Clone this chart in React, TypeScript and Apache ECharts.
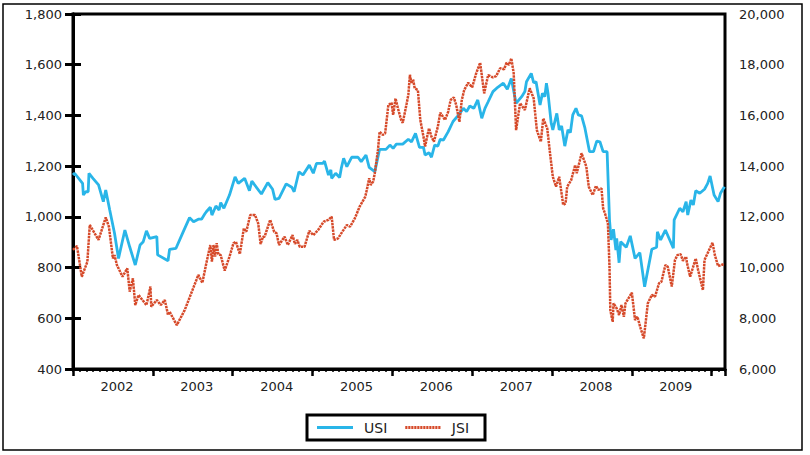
import React, { useEffect, useRef } from "react";
import * as echarts from "echarts";

// Decimal-year dates and values
const usiDates = [
  2002.0, 2002.02, 2002.12, 2002.13, 2002.16, 2002.19, 2002.2, 2002.25, 2002.32, 2002.38,
  2002.41, 2002.46, 2002.52, 2002.57, 2002.65, 2002.71, 2002.78, 2002.84, 2002.88, 2002.92,
  2002.96, 2003.05, 2003.06, 2003.19, 2003.21, 2003.29, 2003.38, 2003.46, 2003.51, 2003.57,
  2003.61, 2003.65, 2003.67, 2003.72, 2003.74, 2003.79, 2003.83, 2003.85, 2003.89, 2003.96,
  2004.03, 2004.07, 2004.15, 2004.21, 2004.24, 2004.36, 2004.44, 2004.5, 2004.53, 2004.58,
  2004.67, 2004.74, 2004.77, 2004.83, 2004.88, 2004.96, 2005.01, 2005.05, 2005.13, 2005.15,
  2005.2, 2005.23, 2005.24, 2005.29, 2005.34, 2005.36, 2005.39, 2005.43, 2005.49, 2005.57,
  2005.61, 2005.67, 2005.71, 2005.78, 2005.84, 2005.92, 2005.97, 2006.01, 2006.05, 2006.13,
  2006.2, 2006.24, 2006.29, 2006.34, 2006.39, 2006.41, 2006.46, 2006.49, 2006.53, 2006.57,
  2006.6, 2006.64, 2006.7, 2006.76, 2006.82, 2006.89, 2006.93, 2006.97, 2007.02, 2007.07,
  2007.12, 2007.16, 2007.2, 2007.26, 2007.32, 2007.39, 2007.44, 2007.49, 2007.55, 2007.62,
  2007.66, 2007.68, 2007.74, 2007.77, 2007.8, 2007.85, 2007.88, 2007.91, 2007.93, 2007.95,
  2007.99, 2008.01, 2008.06, 2008.09, 2008.12, 2008.16, 2008.2, 2008.23, 2008.26, 2008.3,
  2008.33, 2008.37, 2008.41, 2008.47, 2008.52, 2008.56, 2008.6, 2008.64, 2008.69, 2008.72,
  2008.74, 2008.77, 2008.8, 2008.81, 2008.84, 2008.86, 2008.93, 2008.98, 2009.04, 2009.1,
  2009.16, 2009.25, 2009.31, 2009.32, 2009.36, 2009.42, 2009.52, 2009.53, 2009.6, 2009.64,
  2009.68, 2009.7, 2009.74, 2009.77, 2009.8, 2009.85, 2009.91, 2009.95, 2009.98, 2010.03,
  2010.08, 2010.11, 2010.16,
];
const usiValues = [
  1165, 1172, 1132, 1086, 1099, 1099, 1172, 1152, 1126, 1060,
  1106, 1027, 935, 836, 948, 882, 810, 889, 902, 945,
  915, 922, 850, 827, 872, 876, 941, 997, 981, 991,
  991, 1011, 1020, 1038, 1007, 1043, 1027, 1056, 1034, 1086,
  1158, 1132, 1152, 1103, 1141, 1090, 1135, 1109, 1069, 1073,
  1130, 1117, 1099, 1178, 1165, 1204, 1172, 1211, 1211, 1220,
  1165, 1185, 1152, 1172, 1155, 1191, 1231, 1198, 1235, 1235,
  1218, 1244, 1195, 1178, 1266, 1266, 1283, 1270, 1287, 1287,
  1306, 1296, 1329, 1274, 1274, 1244, 1253, 1235, 1283, 1279,
  1306, 1303, 1336, 1376, 1398, 1428, 1415, 1437, 1428, 1461,
  1389, 1428, 1454, 1494, 1511, 1527, 1503, 1546, 1448, 1474,
  1494, 1533, 1566, 1529, 1533, 1441, 1487, 1474, 1527, 1487,
  1369, 1343, 1408, 1343, 1358, 1279, 1343, 1332, 1402, 1428,
  1402, 1398, 1353, 1257, 1257, 1299, 1296, 1257, 1257, 988,
  909, 951, 869, 915, 819, 902, 880, 925, 836, 859,
  724, 872, 880, 941, 909, 948, 876, 988, 1034, 1020,
  1060, 1007, 1066, 1047, 1103, 1093, 1109, 1132, 1161, 1086,
  1060, 1093, 1119,
];

const jsiDates = [
  2002.0, 2002.05, 2002.11, 2002.18, 2002.21, 2002.32, 2002.41, 2002.45, 2002.5, 2002.52,
  2002.55, 2002.62, 2002.68, 2002.71, 2002.75, 2002.78, 2002.82, 2002.92, 2002.97, 2002.98,
  2003.05, 2003.1, 2003.15, 2003.19, 2003.21, 2003.3, 2003.4, 2003.57, 2003.62, 2003.67,
  2003.72, 2003.74, 2003.76, 2003.78, 2003.8, 2003.82, 2003.85, 2003.9, 2003.96, 2004.01,
  2004.04, 2004.09, 2004.14, 2004.17, 2004.22, 2004.28, 2004.32, 2004.35, 2004.38, 2004.4,
  2004.47, 2004.52, 2004.55, 2004.58, 2004.65, 2004.69, 2004.75, 2004.78, 2004.81, 2004.84,
  2004.9, 2004.96, 2005.01, 2005.07, 2005.14, 2005.2, 2005.24, 2005.27, 2005.32, 2005.36,
  2005.43, 2005.47, 2005.53, 2005.59, 2005.66, 2005.68, 2005.71, 2005.73, 2005.76, 2005.78,
  2005.82, 2005.84, 2005.88, 2005.91, 2005.95, 2005.99, 2006.01, 2006.04, 2006.07, 2006.11,
  2006.13, 2006.18, 2006.2, 2006.22, 2006.24, 2006.26, 2006.28, 2006.32, 2006.35, 2006.39,
  2006.41, 2006.44, 2006.46, 2006.49, 2006.52, 2006.57, 2006.6, 2006.66, 2006.7, 2006.73,
  2006.77, 2006.8, 2006.84, 2006.87, 2006.9, 2006.95, 2007.0, 2007.05, 2007.1, 2007.15,
  2007.2, 2007.26, 2007.3, 2007.35, 2007.4, 2007.43, 2007.46, 2007.49, 2007.52, 2007.55,
  2007.6, 2007.66, 2007.72, 2007.77, 2007.81, 2007.86, 2007.89, 2007.94, 2007.98, 2008.01,
  2008.05, 2008.09, 2008.14, 2008.17, 2008.19, 2008.24, 2008.29, 2008.31, 2008.37, 2008.43,
  2008.46, 2008.51, 2008.55, 2008.58, 2008.62, 2008.64, 2008.67, 2008.7, 2008.72, 2008.73,
  2008.76, 2008.77, 2008.81, 2008.84, 2008.87, 2008.9, 2008.92, 2009.0, 2009.04, 2009.07,
  2009.11, 2009.15, 2009.2, 2009.25, 2009.29, 2009.34, 2009.37, 2009.42, 2009.45, 2009.5,
  2009.54, 2009.57, 2009.61, 2009.64, 2009.68, 2009.69, 2009.73, 2009.8, 2009.83, 2009.89,
  2009.91, 2010.01, 2010.04, 2010.08, 2010.12, 2010.16,
];
const jsiValues = [
  10700, 10850, 9640, 10230, 11680, 11090, 11980, 11610, 10360, 10490,
  10100, 9640, 9970, 9050, 9580, 8520, 8920, 8520, 9250, 8460,
  8720, 8520, 8720, 8130, 8260, 7730, 8330, 9710, 9400, 10170,
  10890, 10230, 10890, 10430, 10960, 10530, 10490, 9880, 10430, 10960,
  11020, 10530, 11550, 11410, 12070, 12070, 11740, 10930, 11220, 11220,
  11880, 11410, 11350, 10890, 11220, 10890, 11280, 10930, 11090, 10820,
  10820, 11450, 11280, 11480, 11810, 11880, 12010, 11090, 11150, 11350,
  11680, 11610, 11940, 12400, 12790, 13060, 13520, 13260, 13390, 13720,
  14640, 15360, 15230, 15300, 16410, 16500, 16020, 16670, 16280, 15820,
  15710, 16480, 16810, 17600, 17270, 17420, 17070, 17000, 15820, 15160,
  14770, 15230, 15490, 15160, 14960, 15560, 16110, 15820, 16150, 16610,
  16710, 16410, 15750, 16610, 17000, 17290, 17110, 17660, 18080, 16870,
  17590, 17500, 17550, 17860, 17820, 18080, 17990, 18250, 17660, 15420,
  16480, 16210, 17070, 16680, 15420, 14960, 15880, 15490, 14370, 13580,
  13190, 13580, 12470, 12530, 13190, 13450, 14040, 13720, 14510, 13980,
  13190, 12860, 13220, 13060, 13120, 12340, 12070, 11740, 10030, 8330,
  7860, 8590, 8390, 8130, 8520, 8060, 8590, 9010, 7930, 8060,
  7600, 7210, 8590, 8920, 8850, 9380, 9440, 10100, 10030, 9250,
  10300, 10490, 10530, 10270, 10430, 10190, 9640, 10360, 9900, 9110,
  10300, 10980, 10490, 10060, 10100, 10140,
];

const yearLabels = ["2002", "2003", "2004", "2005", "2006", "2007", "2008", "2009"];
const seriesNames = ["USI", "JSI"];

const START_YEAR = 2002;
const toMonths = (d: number) => +((d - START_YEAR) * 12).toFixed(3);

// legend icon shapes (style only)
const solidIcon = "path://M0,0H36V3H0Z";
const dashedIcon = (() => {
  let p = "path://";
  for (let i = 0; i < 12; i++) {
    const x = i * 3;
    p += `M${x},0H${x + 2.2}V3H${x}Z`;
  }
  return p;
})();

export default function App() {
  const ref = useRef<HTMLDivElement>(null);

  useEffect(() => {
    if (!ref.current) return;
    const chart = echarts.init(ref.current, null, { renderer: "svg" });
    const font = "DejaVu Sans";
    const usiData = usiDates.map((d, i) => [toMonths(d), usiValues[i]]);
    const jsiData = jsiDates.map((d, i) => [toMonths(d), jsiValues[i]]);

    chart.setOption({
      animation: false,
      backgroundColor: "#fff",
      grid: {
        left: 73,
        right: 85,
        top: 14,
        bottom: 86,
        show: true,
        borderColor: "#000",
        borderWidth: 3,
      },
      legend: {
        data: [
          { name: seriesNames[0], icon: solidIcon },
          { name: seriesNames[1], icon: dashedIcon },
        ],
        left: 307,
        top: 415,
        orient: "horizontal",
        borderColor: "#000",
        borderWidth: 3,
        padding: [5, 16, 5, 10],
        itemWidth: 38,
        itemHeight: 3,
        itemGap: 18,
        textStyle: { fontFamily: font, fontSize: 14, color: "#222", padding: [0, 0, 0, 5], lineHeight: 15 },
      },
      xAxis: [
        {
          type: "value",
          min: 0,
          max: 98,
          interval: 12,
          position: "bottom",
          axisLine: { show: true, lineStyle: { color: "#000", width: 3 } },
          axisTick: { show: true, length: 7, lineStyle: { color: "#000", width: 2.5 } },
          splitLine: { show: false },
          axisLabel: {
            margin: 11,
            fontFamily: font,
            fontSize: 13,
            color: "#222",
            formatter: (v: number) => {
              const idx = Math.round(v / 12);
              if (Math.abs(v - idx * 12) > 1e-6 || idx >= yearLabels.length) return "";
              return "{a|" + yearLabels[idx] + "}";
            },
            rich: { a: { fontFamily: font, fontSize: 13, color: "#222", padding: [0, 0, 0, 88] } },
          },
        },
        {
          type: "value",
          min: 0,
          max: 98,
          interval: 1,
          position: "bottom",
          axisLine: { show: false },
          axisTick: { show: true, length: 3, lineStyle: { color: "#000", width: 1.5 } },
          splitLine: { show: false },
          axisLabel: { show: false },
        },
      ],
      yAxis: [
        {
          type: "value",
          min: 400,
          max: 1800,
          interval: 200,
          position: "left",
          axisLine: { show: true, lineStyle: { color: "#000", width: 3 } },
          axisTick: { show: true, length: 8, lineStyle: { color: "#000", width: 3 } },
          splitLine: { show: false },
          axisLabel: {
            margin: 11,
            fontFamily: font,
            fontSize: 13,
            color: "#222",
            formatter: (v: number) => v.toLocaleString("en-US"),
          },
        },
        {
          type: "value",
          min: 6000,
          max: 20000,
          interval: 2000,
          position: "right",
          axisLine: { show: true, lineStyle: { color: "#000", width: 3 } },
          axisTick: { show: true, length: 8, lineStyle: { color: "#000", width: 3 } },
          splitLine: { show: false },
          axisLabel: {
            margin: 14,
            fontFamily: font,
            fontSize: 13,
            color: "#222",
            formatter: (v: number) => v.toLocaleString("en-US"),
          },
        },
      ],
      series: [
        {
          name: seriesNames[0],
          type: "line",
          xAxisIndex: 0,
          yAxisIndex: 0,
          data: usiData,
          symbol: "none",
          showSymbol: false,
          color: "#29b5e8",
          itemStyle: { color: "#29b5e8" },
          lineStyle: { color: "#29b5e8", width: 2.8 },
          z: 2,
        },
        {
          name: seriesNames[1],
          type: "line",
          xAxisIndex: 0,
          yAxisIndex: 1,
          data: jsiData,
          symbol: "none",
          showSymbol: false,
          color: "#d64a2a",
          itemStyle: { color: "#d64a2a" },
          lineStyle: { color: "#d64a2a", width: 2.5, type: [2.5, 0.8] },
          z: 3,
        },
      ],
      graphic: [
        {
          type: "rect",
          shape: { x: 3, y: 4, width: 799, height: 446 },
          style: { fill: "none", stroke: "#000", lineWidth: 1.5 },
          silent: true,
          z: -1,
        },
      ],
    });

    return () => chart.dispose();
  }, []);

  return (
    <div
      ref={ref}
      style={{ position: "absolute", left: 0, top: 0, width: 810, height: 455 }}
    />
  );
}
